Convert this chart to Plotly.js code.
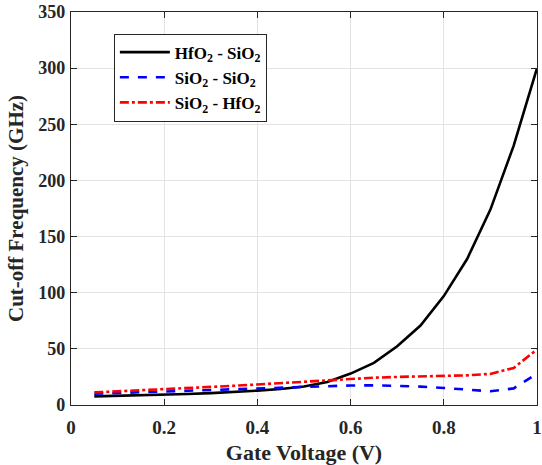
<!DOCTYPE html>
<html>
<head>
<meta charset="utf-8">
<script src="https://cdn.plot.ly/plotly-3.0.1.min.js"></script>
<style>html,body{margin:0;padding:0;background:#fff;}#chart{width:542px;height:465px;}</style>
</head>
<body>
<div id="chart"></div>
<script>
const gateVoltage = [0.05,0.1,0.15,0.2,0.25,0.3,0.35,0.4,0.45,0.5,0.55,0.6,0.65,0.7,0.75,0.8,0.85,0.9,0.95,1.0];
const hfo2Sio2 = [7.7,8.1,8.6,9.1,9.8,10.6,11.6,12.8,14.3,16.5,20.5,28,37.5,52.3,70.8,97,130,174,231,300];
const sio2Sio2 = [10,10.7,11.4,12.1,12.8,13.5,14.3,15.1,15.9,16.6,17.1,17.4,17.5,17.2,16.4,15.2,13.6,12.2,14.8,28];
const sio2Hfo2 = [11.2,12.1,13.1,14.1,15.1,16.1,17.1,18.3,19.6,20.8,22.1,23.3,24.3,25,25.5,25.9,26.4,27.7,33,49.5];
const seriesNames = ['HfO<sub>2</sub> - SiO<sub>2</sub>','SiO<sub>2</sub> - SiO<sub>2</sub>','SiO<sub>2</sub> - HfO<sub>2</sub>'];

const axisColor = '#262626';
const font = {family:'"Liberation Serif", "Times New Roman", serif', color: axisColor};

const traces = [
  {x: gateVoltage, y: hfo2Sio2, name: seriesNames[0], mode:'lines', line:{color:'#000000', width:2.6}},
  {x: gateVoltage, y: sio2Sio2, name: seriesNames[1], mode:'lines', line:{color:'#0000ff', width:2.6, dash:'dash'}},
  {x: gateVoltage, y: sio2Hfo2, name: seriesNames[2], mode:'lines', line:{color:'#ff0000', width:2.6, dash:'dashdot'}}
];

const layout = {
  width:542, height:465,
  margin:{l:71, r:5, t:12, b:60},
  paper_bgcolor:'#ffffff', plot_bgcolor:'#ffffff',
  font: font,
  showlegend:true,
  legend:{x:0.092, y:0.945, xanchor:'left', yanchor:'top', bgcolor:'#ffffff', bordercolor:'#262626', borderwidth:1,
    font:{family:font.family, size:17, color:'#000000', weight:'bold'}, tracegroupgap:0, itemwidth:50},
  xaxis:{range:[0,1], dtick:0.2, tick0:0, showgrid:true, gridcolor:'#e3e3e3', gridwidth:1,
    showline:true, linecolor:axisColor, linewidth:1.2, mirror:'allticks', ticks:'inside', ticklen:6, tickcolor:axisColor,
    zeroline:false, ticklabelstandoff:5, tickfont:{family:font.family, size:19, color:axisColor, weight:'bold'},
    title:{text:'Gate Voltage (V)', font:{family:font.family, size:22, color:axisColor, weight:'bold'}, standoff:10}},
  yaxis:{range:[0,350], dtick:50, tick0:0, showgrid:true, gridcolor:'#e3e3e3', gridwidth:1,
    showline:true, linecolor:axisColor, linewidth:1.2, mirror:'allticks', ticks:'inside', ticklen:6, tickcolor:axisColor,
    zeroline:false, ticklabelstandoff:1, tickfont:{family:font.family, size:18, color:axisColor, weight:'bold'},
    title:{text:'Cut-off Frequency (GHz)', font:{family:font.family, size:21, color:axisColor, weight:'bold'}, standoff:8}}
};

Plotly.newPlot('chart', traces, layout, {staticPlot:true, displayModeBar:false});
</script>
</body>
</html>
